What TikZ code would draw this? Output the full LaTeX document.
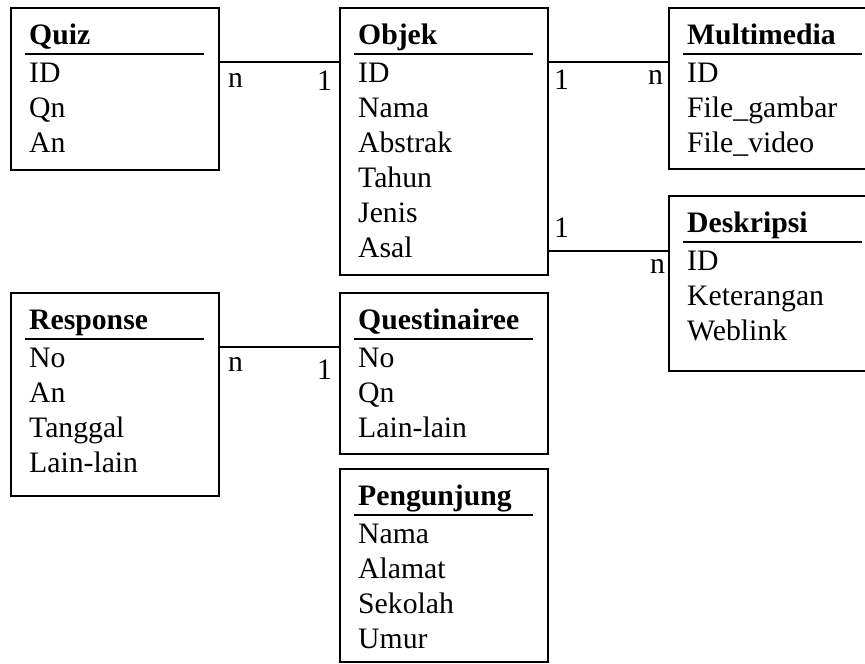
\documentclass[tikz,border=0pt]{standalone}
\usepackage{fontspec}
\setmainfont{Liberation Serif}
\usetikzlibrary{calc}
\tikzset{
  erbox/.style={draw=black, line width=1.6pt, rectangle, anchor=north west, minimum width=208pt, inner sep=0pt},
  ertitle/.style={anchor=base west, inner sep=0pt, font=\fontsize{29.7}{35}\selectfont\bfseries},
  errow/.style={anchor=base west, inner sep=0pt, font=\fontsize{29.7}{35}\selectfont},
  card/.style={anchor=base west, inner sep=0pt, font=\fontsize{29.7}{35}\selectfont},
  uline/.style={line width=2.2pt},
  conn/.style={line width=1.6pt}
}
\newcommand{\erentity}[6]{%
  \node[erbox, minimum height=#4pt] (#1) at (#2,#3) {};
  \node[ertitle] (#1-t) at ($(#1.north west)+(19,37)$) {#5};
  \draw[uline] ($(#1.north west)+(15,47)$) -- ($(#1.north east)+(-16,47)$);
  \foreach \r [count=\i] in {#6} {
    \node[errow] (#1-r\i) at ($(#1.north west)+(19,{75+35*(\i-1)})$) {\r};
  }
}
\begin{document}
\begin{tikzpicture}[x=1pt,y=-1pt]
\clip (0,0) rectangle (865,664);
\fill[white] (0,0) rectangle (865,664);
\erentity{quiz}{10}{7}{162}{Quiz}{ID,Qn,An}
\erentity{objek}{339}{7}{267}{Objek}{ID,Nama,Abstrak,Tahun,Jenis,Asal}
\erentity{multi}{668}{7}{161}{Multimedia}{ID,File\_gambar,File\_video}
\erentity{desk}{668}{195}{175}{Deskripsi}{ID,Keterangan,Weblink}
\erentity{resp}{10}{292}{203}{Response}{No,An,Tanggal,Lain-lain}
\erentity{quest}{339}{292}{161}{Questinairee}{No,Qn,Lain-lain}
\erentity{peng}{339}{468}{193}{Pengunjung}{Nama,Alamat,Sekolah,Umur}
% connectors
\draw[conn] (quiz.east |- 0,62) -- (objek.west |- 0,62);
\draw[conn] (objek.east |- 0,62) -- (multi.west |- 0,62);
\draw[conn] (objek.east |- 0,251) -- (desk.west |- 0,251);
\draw[conn] (resp.east |- 0,347) -- (quest.west |- 0,347);
% cardinalities
\node[card] (qo-n) at (228,87) {n};
\node[card] (qo-1) at (317,90) {1};
\node[card] (om-1) at (554,89) {1};
\node[card] (om-n) at (648,84) {n};
\node[card] (od-1) at (554,237) {1};
\node[card] (od-n) at (650,273) {n};
\node[card] (rq-n) at (228,371) {n};
\node[card] (rq-1) at (317,379) {1};
\end{tikzpicture}
\end{document}
